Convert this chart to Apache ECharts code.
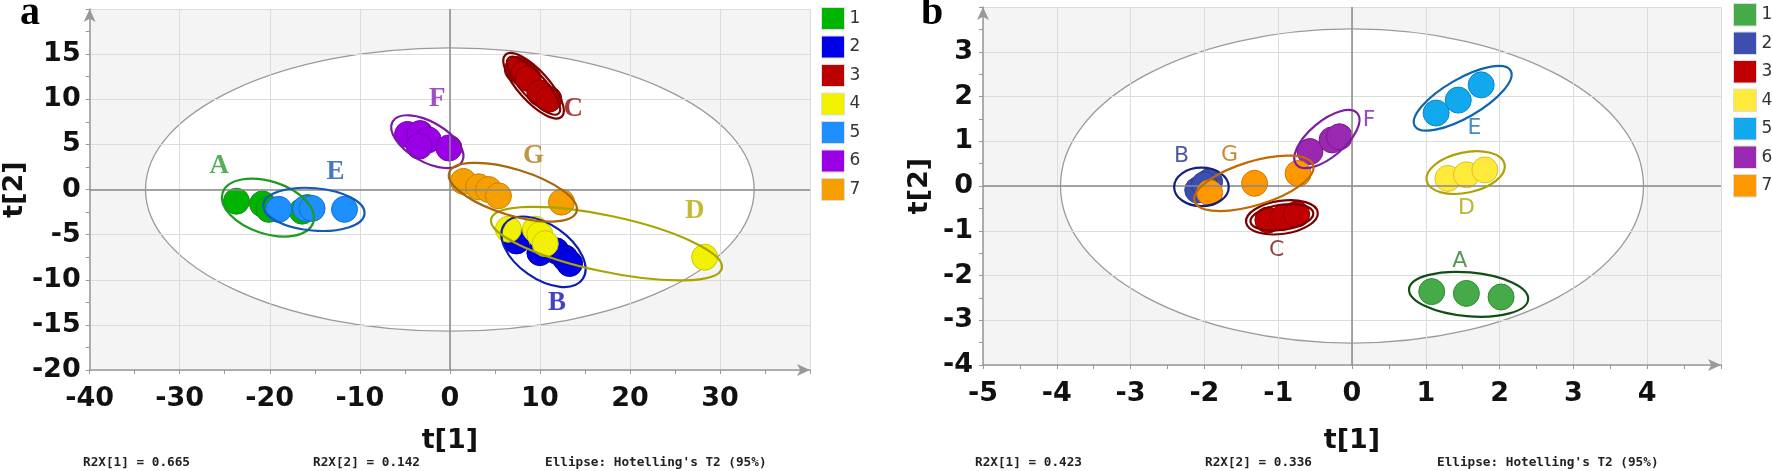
<!DOCTYPE html>
<html>
<head>
<meta charset="utf-8">
<script src="https://cdn.jsdelivr.net/npm/echarts@6/dist/echarts.min.js"></script>
<style>
  html, body { margin: 0; padding: 0; background: #fff; }
  #chart { width: 1772px; height: 471px; }
</style>
</head>
<body>
<div id="chart"></div>
<script>
// ---- panel a: score points per class (t[1], t[2]) ----
var a1 = [[-23.7, -1.3], [-20.8, -1.6], [-20.1, -2.2], [-16.4, -2.4], [-15.8, -2.0]];
var a2 = [[7.4, -5.7], [10.0, -7.0], [11.8, -6.8], [12.8, -7.6], [13.3, -8.2]];
var a3 = [[7.5, 13.3], [8.2, 12.8], [8.7, 12.3], [10.0, 10.7], [11.0, 10.0]];
var a4 = [[6.5, -4.4], [9.5, -4.4], [10.0, -5.0], [10.6, -6.0], [28.3, -7.5]];
var a5 = [[-19.0, -2.2], [-16.0, -2.1], [-15.3, -2.1], [-11.7, -2.2]];
var a6 = [[-4.7, 6.1], [-3.3, 6.2], [-2.4, 5.5], [-3.4, 4.8], [-0.1, 4.6]];
var a7 = [[1.5, 0.9], [3.2, 0.3], [4.3, 0.0], [5.4, -0.7], [12.4, -1.4]];

// ---- panel b ----
var b1 = [[1.08, -2.36], [1.55, -2.40], [2.02, -2.48]];
var b2 = [[-2.09, -0.09], [-1.93, 0.10], [-2.00, 0.03]];
var b3 = [[-1.14, -0.76], [-0.93, -0.70], [-0.75, -0.63]];
var b4 = [[1.30, 0.17], [1.55, 0.25], [1.80, 0.36]];
var b5 = [[1.14, 1.63], [1.44, 1.92], [1.75, 2.26]];
var b6 = [[-0.57, 0.77], [-0.27, 1.03], [-0.17, 1.10]];
var b7 = [[-1.93, -0.15], [-1.32, 0.06], [-0.73, 0.28]];

// group ellipses: [cx, cy, rx (x units), ry (y units), angle deg]
var ellA = [[-20.2, -2.0, 5.3, 2.9, -18], [10.4, -6.9, 5.3, 3.0, -35], [9.3, 11.5, 4.65, 1.7, -48],
            [9.3, 11.5, 4.15, 1.35, -48], [17.4, -6.0, 13.1, 3.1, -12], [-15.1, -2.2, 5.65, 2.35, -5],
            [-2.5, 5.3, 4.45, 2.2, -30], [7.0, -0.3, 7.4, 2.55, -17]];
var ellB = [[1.58, -2.42, 0.81, 0.49, -5], [-2.04, -0.02, 0.37, 0.43, 0], [-0.95, -0.70, 0.49, 0.37, 8],
            [-0.95, -0.70, 0.43, 0.28, 8], [1.54, 0.30, 0.54, 0.45, 12], [1.50, 1.96, 0.75, 0.43, 30],
            [-0.34, 1.05, 0.54, 0.40, 40], [-1.33, 0.06, 0.84, 0.49, 17]];
// Hotelling's T2 (95%) ellipses
var hotA = [[0, 0, 33.8, 15.7, 0]];
var hotB = [[0, 0, 3.95, 3.51, 0]];

// group labels
var labNames = ['A', 'B', 'C', 'D', 'E', 'F', 'G'];
var labA = [[-25.6, 2.6], [11.9, -12.6], [13.7, 8.9], [27.2, -2.4], [-12.7, 1.9], [-1.4, 10.0], [9.3, 3.7]];
var labB = [[1.46, -1.69], [-2.31, 0.66], [-1.02, -1.43], [1.55, -0.50], [1.66, 1.29], [0.23, 1.46], [-1.66, 0.69]];

var ticksA = { xmin: -40, xmax: 40, xstep: 10, ymin: -20, ymax: 20, ystep: 5 };
var ticksB = { xmin: -5, xmax: 5, xstep: 1, ymin: -4, ymax: 4, ystep: 1 };

// colours
var colA = ['#00b400', '#0000e6', '#bb0000', '#f2f200', '#1e8fff', '#9900e6', '#f5a000'];
var bordA = ['#1a8a1a', '#0000a0', '#8a0000', '#c8c800', '#1270d0', '#7a00b0', '#c88000'];
var ellColA = ['#1f9a1f', '#0b1fb0', '#800000', '#800000', '#a8a400', '#1458b8', '#7a1aa0', '#a8650a'];
var labColA = ['#2a9a2a', '#1414b4', '#8b0a0a', '#b4aa00', '#1a55b0', '#8a22b0', '#b07a14'];

var colB = ['#46aa48', '#3c4fb0', '#c00000', '#fdea3a', '#12a8ee', '#9a28b0', '#ff9800'];
var bordB = ['#2e8a30', '#2a3a90', '#900000', '#e0c020', '#0a88c8', '#7a1890', '#d07800'];
var ellColB = ['#0f5014', '#14207a', '#7a0000', '#7a0000', '#b0a000', '#0d65b0', '#7a1fa2', '#c06a00'];
var labColB = ['#2e7a30', '#22308a', '#7a1010', '#b0a000', '#1470b8', '#7a1fa2', '#c06a00'];

var chart = echarts.init(document.getElementById('chart'));

function makeAxes(t, gi, lmargin, bmargin, ynameGap, xnameGap) {
  var axisLine = { show: true, lineStyle: { color: '#999', width: 1.5 }, symbol: ['none', 'arrow'], symbolSize: [9, 13], onZero: false };
  var common = {
    type: 'value', gridIndex: gi, z: 2,
    axisLine: axisLine,
    axisTick: { show: true, length: 4, lineStyle: { color: '#999' } },
    minorTick: { show: true, splitNumber: 2, length: 4, lineStyle: { color: '#999' } },
    splitLine: { show: true, lineStyle: { color: '#dcdcdc', width: 1 } },
    nameTextStyle: { fontFamily: 'DejaVu Sans', fontWeight: 'bold', fontSize: 27, color: '#111' },
    nameLocation: 'middle'
  };
  var lab = { showMaxLabel: false, fontFamily: 'DejaVu Sans', fontWeight: 'bold', fontSize: 27, color: '#111' };
  var x = Object.assign({}, common, {
    min: t.xmin, max: t.xmax, interval: t.xstep, name: 't[1]', nameGap: xnameGap,
    axisLabel: Object.assign({ margin: bmargin }, lab)
  });
  var y = Object.assign({}, common, {
    min: t.ymin, max: t.ymax, interval: t.ystep, name: 't[2]', nameGap: ynameGap,
    axisLabel: Object.assign({ margin: lmargin }, lab)
  });
  return [x, y];
}

function ellipseSeries(data, gi, colors, z, fill, width) {
  return {
    type: 'custom', xAxisIndex: gi, yAxisIndex: gi, z: z, silent: true,
    data: data,
    renderItem: function (params, api) {
      var c = api.coord([api.value(0), api.value(1)]);
      var rx = api.size([api.value(2), 0])[0];
      var ry = api.size([0, api.value(3)])[1];
      return {
        type: 'ellipse', x: c[0], y: c[1], rotation: api.value(4) * Math.PI / 180,
        shape: { cx: 0, cy: 0, rx: rx, ry: ry },
        style: { fill: fill, stroke: colors[params.dataIndex], lineWidth: width }
      };
    }
  };
}

function pointSeries(prefix, sets, gi, cols, bords) {
  return sets.map(function (d, i) {
    return {
      name: prefix + (i + 1), type: 'scatter', xAxisIndex: gi, yAxisIndex: gi,
      data: d, symbolSize: 26, z: 4, silent: true,
      itemStyle: { color: cols[i], borderColor: bords[i], borderWidth: 1, opacity: 1 }
    };
  });
}

function labelSeries(pos, gi, colors, font, weight, size) {
  return {
    type: 'scatter', xAxisIndex: gi, yAxisIndex: gi, z: 6, silent: true, symbolSize: 0,
    data: pos.map(function (p, i) {
      return { value: p, name: labNames[i], label: { color: colors[i] } };
    }),
    label: { show: true, position: 'inside', formatter: '{b}', fontFamily: font, fontWeight: weight, fontSize: size }
  };
}

function zeroLines(gi) {
  return {
    type: 'line', xAxisIndex: gi, yAxisIndex: gi, data: [], z: 3, silent: true,
    markLine: {
      silent: true, symbol: 'none', label: { show: false }, animation: false,
      lineStyle: { color: '#8a8a8a', width: 1.5, type: 'solid' },
      data: [{ xAxis: 0 }, { yAxis: 0 }]
    }
  };
}

var axA = makeAxes(ticksA, 0, 9, 15, 58, 57);
var axB = makeAxes(ticksB, 1, 10, 15, 50, 62);

var legendTxt = { fontFamily: 'DejaVu Sans', fontSize: 17, color: '#333' };

var option = {
  animation: false,
  backgroundColor: '#ffffff',
  grid: [
    { left: 88, top: 9, width: 722, height: 361, backgroundColor: '#f4f4f4', show: true, borderWidth: 0 },
    { left: 983, top: 7, width: 738, height: 358, backgroundColor: '#f4f4f4', show: true, borderWidth: 0 }
  ],
  xAxis: [axA[0], axB[0]],
  yAxis: [axA[1], axB[1]],
  legend: [
    {
      orient: 'vertical', left: 821, top: 7, itemWidth: 23, itemHeight: 22, itemGap: 5.5,
      icon: 'rect', selectedMode: false, textStyle: legendTxt, padding: 0,
      itemStyle: { borderColor: '#ddd', borderWidth: 1 },
      data: ['a1', 'a2', 'a3', 'a4', 'a5', 'a6', 'a7'],
      formatter: function (n) { return n.slice(1); }
    },
    {
      orient: 'vertical', left: 1733, top: 3, itemWidth: 23, itemHeight: 22.5, itemGap: 5,
      icon: 'rect', selectedMode: false, textStyle: legendTxt, padding: 0,
      itemStyle: { borderColor: '#ddd', borderWidth: 1 },
      data: ['b1', 'b2', 'b3', 'b4', 'b5', 'b6', 'b7'],
      formatter: function (n) { return n.slice(1); }
    }
  ],
  graphic: [
    { type: 'text', left: 20, top: -6, style: { text: 'a', font: 'bold 40px "Liberation Serif"', fill: '#000' } },
    { type: 'text', left: 921, top: -6, style: { text: 'b', font: 'bold 40px "Liberation Serif"', fill: '#000' } },
    { type: 'text', left: 83, top: 456, style: { text: 'R2X[1] = 0.665', font: 'bold 12.7px "DejaVu Sans Mono"', fill: '#222' } },
    { type: 'text', left: 313, top: 456, style: { text: 'R2X[2] = 0.142', font: 'bold 12.7px "DejaVu Sans Mono"', fill: '#222' } },
    { type: 'text', left: 545, top: 456, style: { text: "Ellipse: Hotelling's T2 (95%)", font: 'bold 12.7px "DejaVu Sans Mono"', fill: '#222' } },
    { type: 'text', left: 975, top: 456, style: { text: 'R2X[1] = 0.423', font: 'bold 12.7px "DejaVu Sans Mono"', fill: '#222' } },
    { type: 'text', left: 1205, top: 456, style: { text: 'R2X[2] = 0.336', font: 'bold 12.7px "DejaVu Sans Mono"', fill: '#222' } },
    { type: 'text', left: 1437, top: 456, style: { text: "Ellipse: Hotelling's T2 (95%)", font: 'bold 12.7px "DejaVu Sans Mono"', fill: '#222' } }
  ],
  series: [].concat(
    [ellipseSeries(hotA, 0, ['#9a9a9a'], 1, '#ffffff', 1.3), ellipseSeries(hotB, 1, ['#9a9a9a'], 1, '#ffffff', 1.3)],
    [zeroLines(0), zeroLines(1)],
    pointSeries('a', [a1, a2, a3, a4, a5, a6, a7], 0, colA, bordA),
    pointSeries('b', [b1, b2, b3, b4, b5, b6, b7], 1, colB, bordB),
    [ellipseSeries(ellA, 0, ellColA, 5, 'none', 2.2), ellipseSeries(ellB, 1, ellColB, 5, 'none', 2.2)],
    [labelSeries(labA, 0, labColA, 'Liberation Serif', 'bold', 27), labelSeries(labB, 1, labColB, 'DejaVu Sans', 'normal', 22)]
  )
};

chart.setOption(option);
</script>
</body>
</html>
